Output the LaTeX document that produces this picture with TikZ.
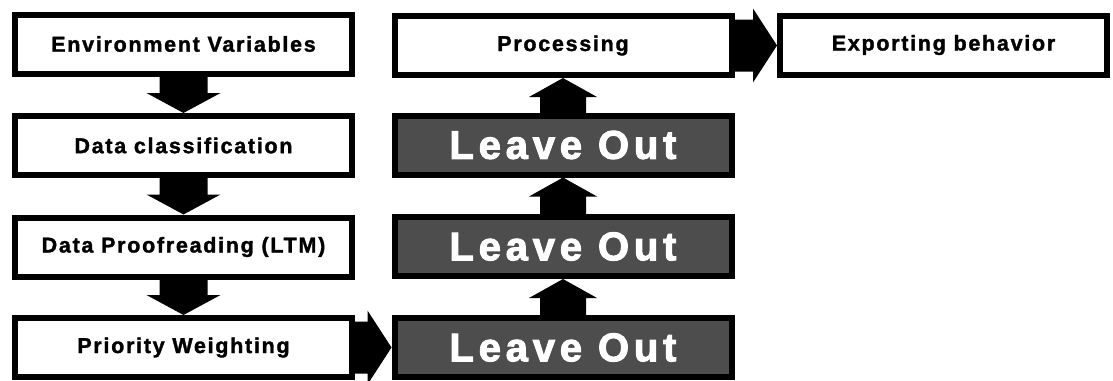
\documentclass[tikz,border=0pt]{standalone}
\usepackage{fontspec}
\setmainfont{Liberation Sans}
\newfontfamily\stagefont{Liberation Sans}[LetterSpace=8, FakeBold=1.5]
\newfontfamily\omitfont{Liberation Sans}[LetterSpace=12, FakeBold=2.5]
\usetikzlibrary{calc}
\definecolor{omitgray}{HTML}{4D4D4D}
\tikzset{
  stage/.style={rectangle, draw=black, line width=6pt, fill=white, inner sep=0pt,
    minimum width=337pt, minimum height=59pt,
    font=\stagefont\bfseries\fontsize{21.5}{25}\selectfont},
  omitted/.style={stage, fill=omitgray, text=white,
    font=\omitfont\bfseries\fontsize{40}{44}\selectfont}
}
% fat block arrows between two nodes
\newcommand{\arrowdown}[2]{%
  \fill let \p1=(#1.south), \p2=(#2.north) in
    (\x1-24pt,\y1+2pt) -- (\x1+24pt,\y1+2pt) -- (\x1+24pt,\y2+20pt) -- (\x1+37pt,\y2+20pt)
    -- (\x1,\y2) -- (\x1-37pt,\y2+20pt) -- (\x1-24pt,\y2+20pt) -- cycle;}
\newcommand{\arrowup}[2]{%
  \fill let \p1=(#1.north), \p2=(#2.south) in
    (\x1-23pt,\y1-2pt) -- (\x1+23pt,\y1-2pt) -- (\x1+23pt,\y2-19pt) -- (\x1+34pt,\y2-19pt)
    -- (\x1,\y2) -- (\x1-34pt,\y2-19pt) -- (\x1-23pt,\y2-19pt) -- cycle;}
\newcommand{\arrowright}[2]{%
  \fill let \p1=(#1.east), \p2=(#2.west) in
    (\x1-2pt,\y1+26pt) -- (\x2-24pt,\y1+26pt) -- (\x2-24pt,\y1+37pt) -- (\x2,\y1)
    -- (\x2-24pt,\y1-37pt) -- (\x2-24pt,\y1-26pt) -- (\x1-2pt,\y1-26pt) -- cycle;}
\begin{document}
\begin{tikzpicture}[x=1pt, y=-1pt]
  \useasboundingbox (0,0) rectangle (1113,380);

  % left column
  \node[stage] (env) at (183.5,44) {Environment Variables};
  \node[stage] (classify) at (183.5,145.5) {Data classification};
  \node[stage] (proofread) at (183.5,247) {Data Proofreading (LTM)};
  \node[stage] (priority) at (183.5,347.5) {Priority Weighting};

  % middle column
  \node[stage] (processing) at (563,45.5) {Processing};
  \node[omitted] (omitA) at (563,145) {Leave Out};
  \node[omitted] (omitB) at (563,246.5) {Leave Out};
  \node[omitted] (omitC) at (563,347.5) {Leave Out};

  % right
  \node[stage, minimum width=327pt] (export) at (943.5,45) {Exporting behavior};

  \arrowdown{env}{classify}
  \arrowdown{classify}{proofread}
  \arrowdown{proofread}{priority}
  \arrowright{priority}{omitC}
  \arrowup{omitC}{omitB}
  \arrowup{omitB}{omitA}
  \arrowup{omitA}{processing}
  \arrowright{processing}{export}
\end{tikzpicture}
\end{document}
